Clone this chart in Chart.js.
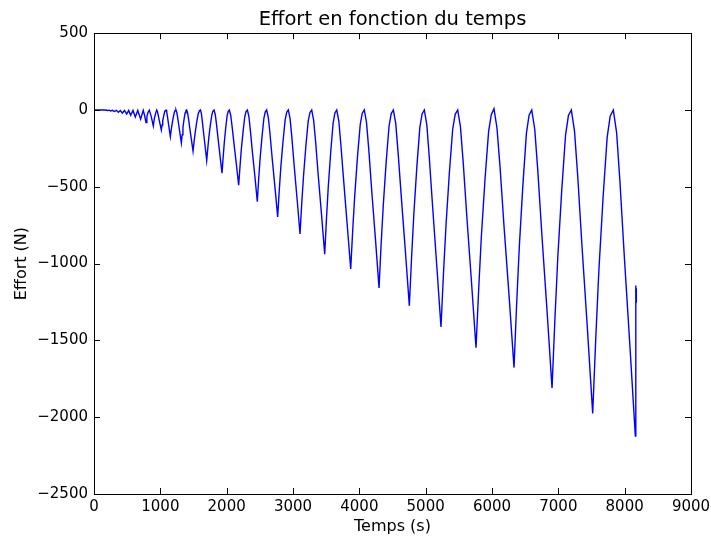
<!DOCTYPE html>
<html>
<head>
<meta charset="utf-8">
<title>Effort en fonction du temps</title>
<script src="https://cdn.jsdelivr.net/npm/chart.js@4/dist/chart.umd.min.js"></script>
<style>
  html, body { margin: 0; padding: 0; background: #fff; }
  #wrap { width: 711px; height: 538px; }
</style>
</head>
<body>
<div id="wrap"><canvas id="effort-chart" width="711" height="538"></canvas></div>
<script>
/* ===== Effort en fonction du temps ===== */

// Temps (s)
const temps = [
  0, 170, 205, 228, 251, 278, 306, 336, 367, 397, 427, 460, 493, 523, 553, 588, 623, 660, 703, 742,
  763, 784, 797, 815, 834, 864, 894, 910, 930,
  945, 956, 966, 980, 1015, 1026, 1036, 1051, 1065, 1075,
  1086, 1096, 1106, 1119, 1151, 1164, 1177, 1194, 1211, 1223,
  1236, 1248, 1260, 1277, 1317, 1329, 1341, 1357, 1373, 1385,
  1397, 1411, 1426, 1445, 1493, 1510, 1527, 1549, 1571, 1590,
  1605, 1619, 1633, 1652, 1699, 1716, 1732, 1755, 1777, 1793,
  1810, 1828, 1846, 1870, 1930, 1947, 1963, 1985, 2007, 2024,
  2040, 2061, 2082, 2111, 2146, 2181, 2201, 2220, 2247, 2273, 2292,
  2312, 2335, 2357, 2387, 2425, 2462, 2483, 2504, 2533, 2561, 2582,
  2603, 2628, 2653, 2686, 2728, 2769, 2793, 2817, 2850, 2882, 2906,
  2930, 2956, 2983, 3018, 3062, 3106, 3132, 3159, 3194, 3229, 3256,
  3282, 3311, 3341, 3380, 3429, 3478, 3505, 3532, 3569, 3605, 3632,
  3659, 3691, 3722, 3765, 3817, 3870, 3901, 3932, 3973, 4014, 4044,
  4075, 4108, 4142, 4186, 4242, 4297, 4329, 4362, 4405, 4448, 4481,
  4513, 4549, 4585, 4634, 4694, 4754, 4788, 4822, 4867, 4912, 4946,
  4980, 5018, 5055, 5106, 5168, 5231, 5269, 5307, 5357, 5407, 5445,
  5483, 5524, 5566, 5621, 5690, 5759, 5800, 5840, 5895, 5949, 5989,
  6030, 6075, 6121, 6181, 6257, 6332, 6372, 6412, 6466, 6519, 6559,
  6599, 6645, 6691, 6752, 6829, 6905, 6949, 6992, 7051, 7109, 7152,
  7196, 7244, 7293, 7357, 7438, 7518, 7565, 7611, 7674, 7736, 7782,
  7829, 7879, 7929, 7995, 8078, 8161, 8168, 8172, 8176
];

// Effort (N), same points
const effort = [
  0, 0, -3, -1, -6, -2, -10, -2, -15, -3, -20, -3, -27, -3, -35, -3, -46, -3, -60, -2,
  -36, -82, -43, -15, -1, -45, -104, -55, -20,
  0, -9, -29, -59, -130, -98, -69, -38, -12, -3,
  0, -12, -38, -78, -173, -130, -92, -50, -16, -3,
  0, -15, -47, -96, -214, -161, -113, -62, -19, -4,
  0, -19, -59, -121, -268, -201, -142, -78, -24, -5,
  0, -23, -72, -148, -329, -247, -174, -95, -30, -7,
  0, -29, -90, -185, -411, -308, -218, -119, -37, -8,
  0, -34, -108, -221, -353, -490, -368, -260, -142, -44, -10,
  0, -42, -131, -269, -430, -597, -448, -316, -173, -54, -12,
  0, -49, -153, -314, -502, -697, -523, -369, -202, -63, -14,
  0, -56, -178, -363, -581, -807, -605, -428, -234, -73, -16,
  0, -66, -207, -423, -676, -939, -704, -498, -272, -85, -19,
  0, -72, -228, -466, -745, -1035, -776, -549, -300, -93, -21,
  0, -81, -255, -521, -834, -1158, -869, -614, -336, -104, -23,
  0, -89, -281, -574, -918, -1275, -956, -676, -370, -115, -26,
  0, -99, -311, -636, -1017, -1413, -1060, -749, -410, -127, -28,
  0, -108, -341, -697, -1115, -1548, -1161, -820, -449, -139, -31,
  8, -117, -369, -755, -1207, -1677, -1258, -889, -486, -151, -34,
  0, -127, -398, -814, -1302, -1809, -1357, -959, -525, -163, -36,
  0, -138, -435, -889, -1422, -1975, -1481, -1047, -573, -178, -40,
  0, -149, -467, -955, -1528, -2122, -1143, -1250, -1160
];

const xTicks = [0, 1000, 2000, 3000, 4000, 5000, 6000, 7000, 8000, 9000];
const yTicks = [-2500, -2000, -1500, -1000, -500, 0, 500];

const FONT = "'DejaVu Sans', 'Liberation Sans', sans-serif";

// minus sign like matplotlib
function fmtTick(v) {
  return v < 0 ? '\u2212' + Math.abs(v) : String(v);
}

// box frame + inward ticks on all four sides
const frameTicks = {
  id: 'frameTicks',
  afterDatasetsDraw(chart) {
    const { ctx, chartArea: a, scales } = chart;
    const len = 6;
    ctx.save();
    ctx.strokeStyle = '#000';
    ctx.lineWidth = 1;
    ctx.beginPath();
    xTicks.forEach(v => {
      const px = Math.round(scales.x.getPixelForValue(v)) + 0.5;
      ctx.moveTo(px, a.bottom); ctx.lineTo(px, a.bottom - len);
      ctx.moveTo(px, a.top);    ctx.lineTo(px, a.top + len);
    });
    yTicks.forEach(v => {
      const py = Math.round(scales.y.getPixelForValue(v)) + 0.5;
      ctx.moveTo(a.left, py);  ctx.lineTo(a.left + len, py);
      ctx.moveTo(a.right, py); ctx.lineTo(a.right - len, py);
    });
    ctx.stroke();
    ctx.strokeRect(Math.round(a.left) + 0.5, Math.round(a.top) + 0.5,
                   Math.round(a.right - a.left), Math.round(a.bottom - a.top));
    ctx.restore();
  }
};

const ctx = document.getElementById('effort-chart').getContext('2d');

new Chart(ctx, {
  type: 'line',
  data: {
    datasets: [{
      label: 'Effort',
      data: temps.map((t, i) => ({ x: t, y: effort[i] })),
      borderColor: '#0000ff',
      backgroundColor: '#0000ff',
      borderWidth: 1.4,
      pointRadius: 0,
      tension: 0,
      fill: false
    }]
  },
  options: {
    responsive: false,
    animation: false,
    devicePixelRatio: 1,
    layout: { padding: { top: 0, right: 20, bottom: 0, left: 0 } },
    plugins: {
      legend: { display: false },
      tooltip: { enabled: false },
      title: {
        display: true,
        text: 'Effort en fonction du temps',
        fullSize: false,
        color: '#000',
        font: { family: FONT, size: 19.5, weight: 'normal', lineHeight: 1.2 },
        padding: { top: 8.5, bottom: 1.3 }
      }
    },
    scales: {
      x: {
        type: 'linear',
        min: 0,
        max: 9000,
        afterFit(scale) {
          scale.height = 44;
          scale.paddingLeft = 0;
          scale.paddingRight = 0;
        },
        afterBuildTicks(scale) { scale.ticks = xTicks.map(v => ({ value: v })); },
        grid: { display: false, drawTicks: false },
        border: { display: false },
        ticks: {
          color: '#000',
          padding: 4,
          maxRotation: 0,
          font: { family: FONT, size: 15 },
          callback: v => fmtTick(v)
        },
        title: {
          display: true,
          text: 'Temps (s)',
          color: '#000',
          font: { family: FONT, size: 16 },
          padding: { top: 0, bottom: 2 }
        }
      },
      y: {
        type: 'linear',
        min: -2500,
        max: 500,
        afterFit(scale) {
          scale.width = 94;
          scale.paddingTop = 0;
          scale.paddingBottom = 0;
        },
        afterBuildTicks(scale) { scale.ticks = yTicks.map(v => ({ value: v })); },
        grid: { display: false, drawTicks: false },
        border: { display: false },
        ticks: {
          color: '#000',
          padding: 6,
          font: { family: FONT, size: 15 },
          callback: v => fmtTick(v)
        },
        title: {
          display: true,
          text: 'Effort (N)',
          color: '#000',
          font: { family: FONT, size: 16 },
          padding: { top: 12, bottom: 0 }
        }
      }
    }
  },
  plugins: [frameTicks]
});
</script>
</body>
</html>
